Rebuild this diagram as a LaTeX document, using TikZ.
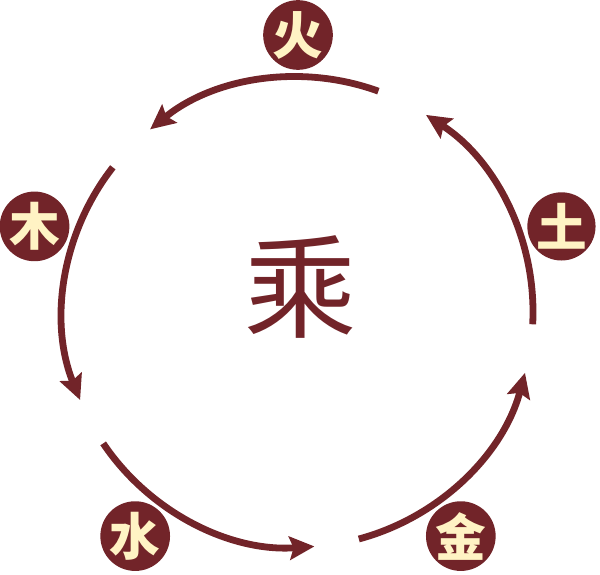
\documentclass[tikz,border=0pt]{standalone}
\usepackage{fontspec}
\newfontfamily\cjk{Noto Sans CJK SC}
\usepackage{tikz}
\usetikzlibrary{positioning, arrows.meta}
\definecolor{wxred}{HTML}{722429}
\definecolor{wxcream}{HTML}{FFF3C4}
\tikzset{
	elem/.style={circle, fill=wxred, text=wxcream, inner sep=0pt, minimum size=1.65cm, font=\cjk\bfseries\fontsize{36}{36}\selectfont},
	ring/.style={line width=.17cm, wxred, -{Stealth[length=.62cm, width=.58cm, inset=.1cm]}}
}
\begin{document}
\begin{tikzpicture}[x=.025cm, y=.025cm]
			\useasboundingbox	(0, 0) rectangle (600, 574);
			\coordinate	(O)	at	(298, 262);
			\node	(cheng)	at	(301, 287)	[text=wxred, font=\cjk\fontsize{80}{80}\selectfont]	{乘};
			\node	(huo)	at	([shift={(90:277)}]O)	[elem]	{火};
			\node	(mu)	at	([shift={(162:277)}]O)	[elem]	{木};
			\node	(shui)	at	([shift={(234:277)}]O)	[elem]	{水};
			\node	(jin)	at	([shift={(306:277)}]O)	[elem]	{金};
			\node	(tu)	at	([shift={(18:277)}]O)	[elem]	{土};
			\draw	[ring]	([shift={(70:235)}]O)	arc[start angle=70, end angle=129, radius=235];
			\draw	[ring]	([shift={(142:235)}]O)	arc[start angle=142, end angle=202, radius=235];
			\draw	[ring]	([shift={(214:235)}]O)	arc[start angle=214, end angle=274, radius=235];
			\draw	[ring]	([shift={(285:235)}]O)	arc[start angle=285, end angle=345, radius=235];
			\draw	[ring]	([shift={(-3:235)}]O)	arc[start angle=-3, end angle=57, radius=235];
		\end{tikzpicture}
\end{document}
